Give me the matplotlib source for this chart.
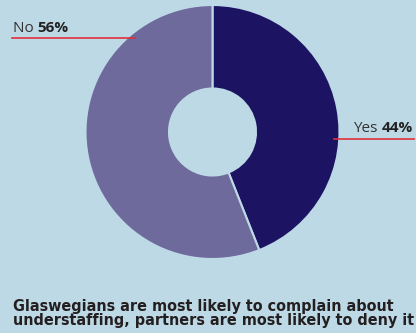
import matplotlib
matplotlib.use("Agg")
import matplotlib.pyplot as plt

labels = ["Yes", "No"]
shares = [44, 56]
colors = ["#1c1463", "#6e6a9c"]
title = "Glaswegians are most likely to complain about\nunderstaffing, partners are most likely to deny it"

bg = "#bed9e6"
red = "#e0303a"

W, H = 416, 333
fig = plt.figure(figsize=(W / 100, H / 100), dpi=100, facecolor=bg)

# donut: centre (212.5, 132) px from top, radius 127 px
cx, cy, r = 212.5, 132, 127
ax = fig.add_axes([(cx - r) / W, (H - cy - r) / H, 2 * r / W, 2 * r / H])
ax.set_facecolor(bg)
ax.pie(shares, colors=colors, startangle=90, counterclock=False,
       radius=1, wedgeprops=dict(width=1 - 43.5 / r, edgecolor=bg, linewidth=1.5))
ax.set_xlim(-1, 1)
ax.set_ylim(-1, 1)
ax.set_aspect("equal")
ax.axis("off")


def px(x, y):
    return x / W, 1 - y / H


def label(x, y, word, pct, align="left"):
    fig.canvas.draw()
    r_ = fig.canvas.get_renderer()
    t1 = fig.text(0, 0, word + " ", fontsize=11, color="#333333", family="Open Sans")
    t2 = fig.text(0, 0, f"{pct}%", fontsize=11, color="#222222", family="Open Sans", fontweight="bold")
    w1 = t1.get_window_extent(r_).width
    w2 = t2.get_window_extent(r_).width
    if align == "right":
        x = x - w1 - w2
    t1.set_position(px(x, y))
    t2.set_position(px(x + w1, y))


label(13, 31.5, "No", shares[1])
fig.add_artist(plt.Line2D([12 / W, 135 / W], [1 - 38 / H] * 2, color=red, lw=1.2))

label(413, 132, "Yes", shares[0], align="right")
fig.add_artist(plt.Line2D([333.5 / W, 414 / W], [1 - 138.5 / H] * 2, color=red, lw=1.2))

fig.text(13 / W, 1 - 325.5 / H, title, fontsize=11.5, fontweight="bold", color="#231f20",
         family="DejaVu Sans", fontstretch="condensed", linespacing=1.0, va="baseline")

fig.savefig("out.png", dpi=100, facecolor=bg)
